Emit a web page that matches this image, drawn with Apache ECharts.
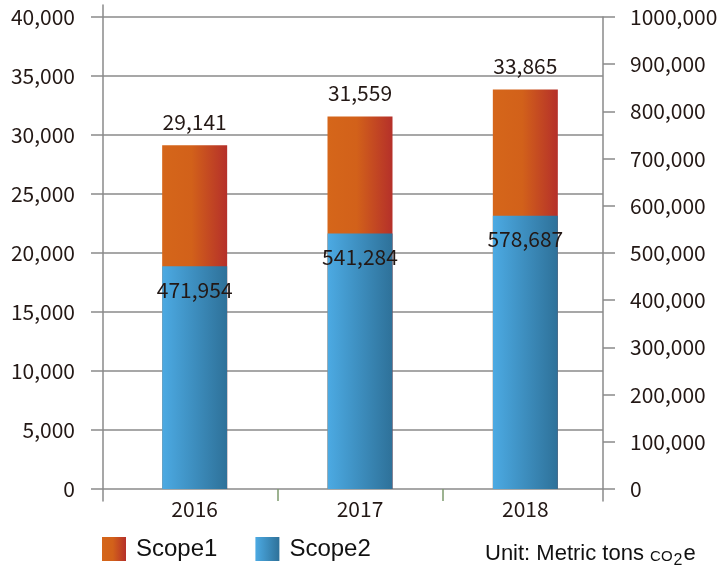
<!DOCTYPE html>
<html>
<head>
<meta charset="utf-8">
<script src="https://cdn.jsdelivr.net/npm/echarts@6/dist/echarts.min.js"></script>
<style>
  html, body { margin: 0; padding: 0; background: #fff; }
  #main { width: 722px; height: 569px; }
</style>
</head>
<body>
<div id="main"></div>
<script>
// data
var years = ['2016', '2017', '2018'];
var scope1 = [29141, 31559, 33865];     // left axis
var scope2 = [471954, 541284, 578687];  // right axis
var leftTickLabels = ['0', '5,000', '10,000', '15,000', '20,000', '25,000', '30,000', '35,000', '40,000'];
var rightTickLabels = ['0', '100,000', '200,000', '300,000', '400,000', '500,000', '600,000', '700,000', '800,000', '900,000', '1000,000'];

var chart = echarts.init(document.getElementById('main'), null, { renderer: 'canvas' });

var txtColor = '#231815';
var lineGray = '#8a8a8a';
var numFont = '"Noto Sans CJK JP", "Noto Sans", sans-serif';
var latin = '"Liberation Sans", Arial, sans-serif';

var orangeGrad = new echarts.graphic.LinearGradient(0, 0, 1, 0, [
  { offset: 0, color: '#d5661a' },
  { offset: 0.45, color: '#d2611a' },
  { offset: 1, color: '#b5302a' }
]);
var blueGrad = new echarts.graphic.LinearGradient(0, 0, 1, 0, [
  { offset: 0, color: '#4caae3' },
  { offset: 1, color: '#2e7199' }
]);

function hiddenX(gi) {
  return { gridIndex: gi, type: 'category', data: [''], show: false, axisLine: { onZero: false } };
}

function fmt(p) {
  return p.value.toLocaleString('en-US');
}

var option = {
  animation: false,
  backgroundColor: '#fff',
  // 0: left axis line (extends above/below), 1: right axis line,
  // 2: ticks / labels / grid lines, 3: bars + categories
  grid: [
    { left: 103, right: 119, top: 5, bottom: 68, outerBoundsMode: 'none' },
    { left: 103, right: 119, top: 17, bottom: 68, outerBoundsMode: 'none' },
    { left: 103, right: 119, top: 17, bottom: 80, outerBoundsMode: 'none' },
    { left: 112, right: 114, top: 17, bottom: 80, outerBoundsMode: 'none' }
  ],
  title: {
    text: '{a|Unit: Metric tons }{b|CO}{c|2}{d|e}',
    left: 480,
    top: 542,
    textStyle: {
      fontWeight: 'normal',
      rich: {
        a: { fontFamily: latin, fontWeight: 'normal', fontSize: 22, lineHeight: 22, color: '#111', verticalAlign: 'bottom', padding: [0, 0, 4, 0] },
        b: { fontFamily: latin, fontWeight: 'normal', fontSize: 15, lineHeight: 15, color: '#111', verticalAlign: 'bottom', padding: [0, 0, 5, 0] },
        c: { fontFamily: latin, fontWeight: 'normal', fontSize: 16, lineHeight: 16, color: '#111', verticalAlign: 'bottom', padding: [0, 1, 0, 1] },
        d: { fontFamily: latin, fontWeight: 'normal', fontSize: 22, lineHeight: 22, color: '#111', verticalAlign: 'bottom', padding: [0, 0, 4, 0] }
      }
    }
  },
  legend: {
    left: 97,
    top: 532,
    itemWidth: 24,
    itemHeight: 24,
    itemGap: 38,
    icon: 'rect',
    data: ['Scope1', 'Scope2'],
    textStyle: {
      fontFamily: latin,
      fontSize: 24,
      color: '#111',
      padding: [0, 0, 0, 5]
    }
  },
  xAxis: [
    hiddenX(0),
    hiddenX(1),
    hiddenX(2),
    {
      gridIndex: 3,
      type: 'category',
      position: 'bottom',
      data: years,
      axisLine: { show: false },
      axisTick: { show: false },
      axisLabel: { color: txtColor, fontFamily: numFont, fontSize: 21, margin: 10 }
    },
    {
      // category separators
      gridIndex: 3,
      type: 'value',
      position: 'bottom',
      min: 0,
      max: 3,
      axisLine: { show: false, onZero: false },
      axisLabel: { show: false },
      splitLine: { show: false },
      axisTick: { show: true, length: 12, customValues: [1, 2], lineStyle: { color: '#7d9a6e', width: 1.5 } }
    }
  ],
  yAxis: [
    {
      gridIndex: 0, type: 'value', position: 'left', min: 0, max: 1,
      axisLine: { show: true, onZero: false, lineStyle: { color: lineGray, width: 1.5 } },
      axisTick: { show: false }, axisLabel: { show: false }, splitLine: { show: false }
    },
    {
      gridIndex: 1, type: 'value', position: 'right', min: 0, max: 1,
      axisLine: { show: true, onZero: false, lineStyle: { color: lineGray, width: 1.5 } },
      axisTick: { show: false }, axisLabel: { show: false }, splitLine: { show: false }
    },
    {
      gridIndex: 2, type: 'value', position: 'left',
      min: 0, max: 40000, interval: 5000,
      axisLine: { show: false, onZero: false },
      axisTick: { show: true, length: 12, lineStyle: { color: lineGray, width: 1.5 } },
      splitLine: { show: true, lineStyle: { color: lineGray, width: 1.5 } },
      axisLabel: {
        color: txtColor, fontFamily: numFont, fontSize: 21, margin: 28,
        formatter: function (v) { return leftTickLabels[Math.round(v / 5000)]; }
      }
    },
    {
      gridIndex: 2, type: 'value', position: 'right',
      min: 0, max: 1000000, interval: 100000,
      axisLine: { show: false, onZero: false },
      axisTick: { show: true, length: 12, lineStyle: { color: lineGray, width: 1.5 } },
      splitLine: { show: false },
      axisLabel: {
        color: txtColor, fontFamily: numFont, fontSize: 21, margin: 27,
        formatter: function (v) { return rightTickLabels[Math.round(v / 100000)]; }
      }
    },
    { gridIndex: 3, type: 'value', position: 'left', min: 0, max: 40000, show: false },
    { gridIndex: 3, type: 'value', position: 'right', min: 0, max: 1000000, show: false }
  ],
  series: [
    {
      name: 'Scope1',
      type: 'bar',
      xAxisIndex: 3,
      yAxisIndex: 4,
      data: scope1,
      barWidth: 65,
      itemStyle: { color: orangeGrad },
      label: {
        show: true,
        position: 'top',
        distance: 13,
        color: txtColor,
        fontFamily: numFont,
        fontSize: 21,
        formatter: fmt
      }
    },
    {
      name: 'Scope2',
      type: 'bar',
      xAxisIndex: 3,
      yAxisIndex: 5,
      data: scope2,
      barWidth: 65,
      barGap: '-100%',
      itemStyle: { color: blueGrad },
      label: {
        show: true,
        position: 'insideTop',
        distance: 13,
        color: txtColor,
        fontFamily: numFont,
        fontSize: 21,
        formatter: fmt
      }
    }
  ]
};

chart.setOption(option);
</script>
</body>
</html>
